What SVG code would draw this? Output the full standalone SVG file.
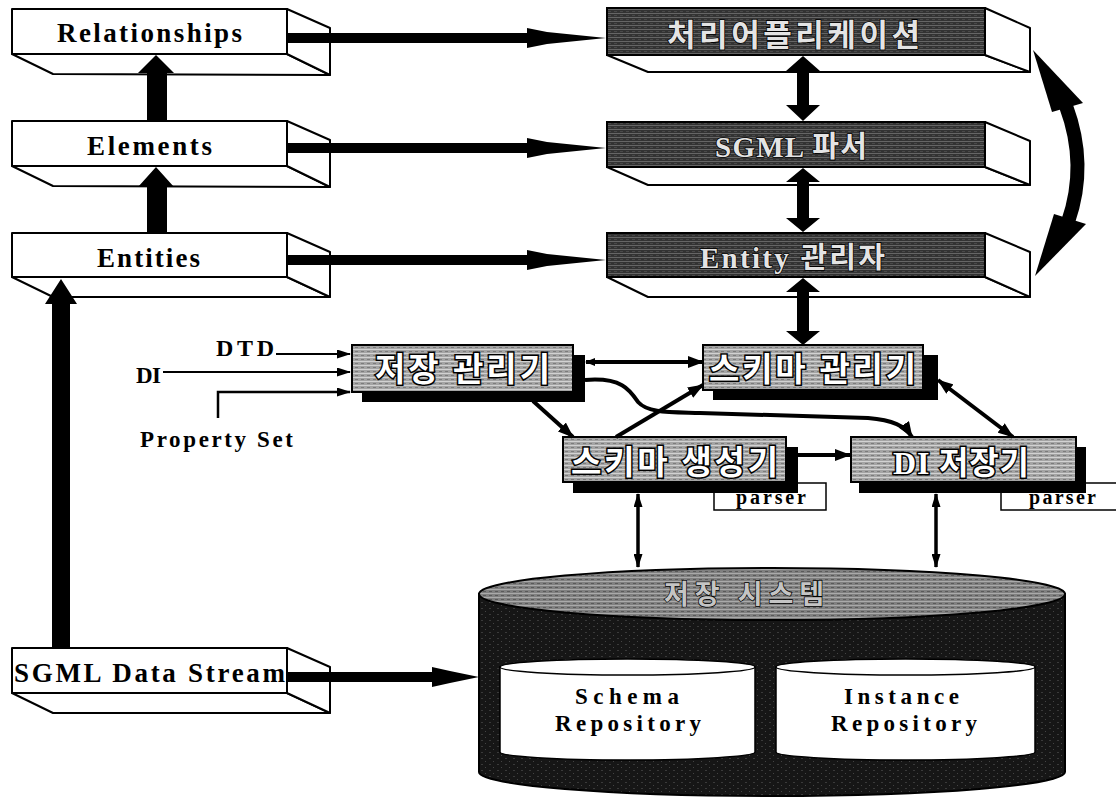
<svg xmlns="http://www.w3.org/2000/svg" width="1116" height="800" viewBox="0 0 1116 800">
<defs>
<pattern id="pDark" width="6" height="4" patternUnits="userSpaceOnUse">
<rect width="6" height="4" fill="#333"/><rect y="1" width="6" height="1" fill="#666"/><rect x="2" y="3" width="3" height="1" fill="#4a4a4a"/>
</pattern>
<pattern id="pMid" width="6" height="4" patternUnits="userSpaceOnUse">
<rect width="6" height="4" fill="#a4a4a4"/><rect y="1" width="6" height="1" fill="#d2d2d2"/><rect x="1" y="3" width="3" height="1" fill="#7c7c7c"/>
</pattern>
<pattern id="pCylTop" width="6" height="4" patternUnits="userSpaceOnUse">
<rect width="6" height="4" fill="#808080"/><rect y="1" width="6" height="1" fill="#aaaaaa"/><rect x="3" y="3" width="3" height="1" fill="#5a5a5a"/>
</pattern>
<pattern id="pCylBody" width="8" height="6" patternUnits="userSpaceOnUse">
<rect width="8" height="6" fill="#161616"/><rect x="1" y="2" width="2" height="1" fill="#3a3a3a"/><rect x="5" y="5" width="1" height="1" fill="#444"/>
</pattern>
<marker id="ah" markerWidth="16" markerHeight="12" refX="15" refY="6" orient="auto-start-reverse" markerUnits="userSpaceOnUse"><path d="M0,0 L16,6 L0,12 Z" fill="#000"/></marker>
<marker id="ahs" markerWidth="14" markerHeight="9" refX="13" refY="4.5" orient="auto-start-reverse" markerUnits="userSpaceOnUse"><path d="M0,0 L14,4.5 L0,9 Z" fill="#000"/></marker>
<marker id="ahm" markerWidth="10" markerHeight="10" refX="9" refY="5" orient="auto-start-reverse" markerUnits="userSpaceOnUse"><path d="M0,1 L10,5 L0,9 Z" fill="#000"/></marker>
<style>
.face{fill:#fff;stroke:#000;stroke-width:2;stroke-linejoin:round}
.ser{font-family:"Liberation Serif","Noto Sans CJK KR",serif;font-weight:bold;fill:#000}
.krd{font-family:"Liberation Serif","Noto Sans CJK KR",sans-serif;font-weight:bold;fill:#e4e4e4;stroke:#000;stroke-width:1.6;paint-order:stroke}
.krm{font-family:"Liberation Serif","Noto Sans CJK KR",sans-serif;font-weight:bold;fill:#fff;stroke:#000;stroke-width:3;paint-order:stroke}
.dark{fill:url(#pDark);stroke:#000;stroke-width:2}
.mid{fill:url(#pMid);stroke:#000;stroke-width:2}
.shadow{fill:#000}
.ln{fill:none;stroke:#000;stroke-linecap:butt}
</style>
</defs>
<rect width="1116" height="800" fill="#fff"/>

<!-- left 3D boxes -->
<g id="relationships">
<polygon class="face" points="12,54 53,74 330,75 287,54"/>
<polygon class="face" points="287,9 330,28 330,75 287,54"/>
<rect class="face" x="12" y="9" width="275" height="45"/>
<text class="ser" x="57" y="42" font-size="27" textLength="185" lengthAdjust="spacing">Relationships</text>
</g>
<g id="elements">
<polygon class="face" points="12,166 53,186 330,187 287,166"/>
<polygon class="face" points="287,121 330,140 330,187 287,166"/>
<rect class="face" x="12" y="121" width="275" height="45"/>
<text class="ser" x="87" y="155" font-size="27" textLength="125" lengthAdjust="spacing">Elements</text>
</g>
<g id="entities">
<polygon class="face" points="12,277 53,297 330,297 287,277"/>
<polygon class="face" points="287,233 330,252 330,297 287,277"/>
<rect class="face" x="12" y="233" width="275" height="44"/>
<text class="ser" x="97" y="267" font-size="27" textLength="103" lengthAdjust="spacing">Entities</text>
</g>
<g id="sgml-data-stream">
<polygon class="face" points="12,693 53,713 330,713 287,693"/>
<polygon class="face" points="287,648 330,667 330,713 287,693"/>
<rect class="face" x="12" y="648" width="275" height="45"/>
<text class="ser" x="14" y="682" font-size="27" textLength="271" lengthAdjust="spacing">SGML Data Stream</text>
</g>

<!-- right 3D boxes -->
<g id="app">
<polygon class="face" points="607,55 648,72 1030,72 985,55"/>
<polygon class="face" points="985,8 1030,28 1030,72 985,55"/>
<rect class="dark" x="607" y="8" width="378" height="47"/>
<text class="krd" x="667" y="46" font-size="31" textLength="253" lengthAdjust="spacing">처리어플리케이션</text>
</g>
<g id="sgml-parser">
<polygon class="face" points="607,167 648,185 1030,185 985,167"/>
<polygon class="face" points="985,122 1030,141 1030,185 985,167"/>
<rect class="dark" x="607" y="122" width="378" height="45"/>
<text class="krd" x="715" y="157" font-size="29" textLength="152" lengthAdjust="spacing">SGML 파서</text>
</g>
<g id="entity-manager">
<polygon class="face" points="607,277 648,297 1030,297 985,277"/>
<polygon class="face" points="985,233 1030,252 1030,297 985,277"/>
<rect class="dark" x="607" y="233" width="378" height="44"/>
<text class="krd" x="700" y="268" font-size="29" textLength="185" lengthAdjust="spacing">Entity 관리자</text>
</g>

<!-- middle boxes -->
<g id="storage-manager">
<rect class="shadow" x="362" y="355" width="223" height="47"/>
<rect class="mid" x="352" y="345" width="221" height="47"/>
<text class="krm" x="375" y="381" font-size="33" textLength="175" lengthAdjust="spacing">저장 관리기</text>
</g>
<g id="schema-manager">
<rect class="shadow" x="713" y="355" width="225" height="45"/>
<rect class="mid" x="703" y="345" width="220" height="45"/>
<text class="krm" x="709" y="381" font-size="33" textLength="207" lengthAdjust="spacing">스키마 관리기</text>
</g>
<g id="schema-generator">
<rect fill="#fff" stroke="#000" stroke-width="1.5" x="714" y="483" width="112" height="27"/>
<text class="ser" x="736" y="504" font-size="20" textLength="70" lengthAdjust="spacing">parser</text>
<rect class="shadow" x="573" y="447" width="225" height="46"/>
<rect class="mid" x="563" y="437" width="223" height="45"/>
<text class="krm" x="571" y="474" font-size="33" textLength="207" lengthAdjust="spacing">스키마 생성기</text>
</g>
<g id="di-storer">
<rect fill="#fff" stroke="#000" stroke-width="1.5" x="1001" y="483" width="120" height="27"/>
<text class="ser" x="1029" y="504" font-size="20" textLength="67" lengthAdjust="spacing">parser</text>
<rect class="shadow" x="859" y="447" width="227" height="46"/>
<rect class="mid" x="851" y="437" width="225" height="45"/>
<text class="krm" x="893" y="474" font-size="32" textLength="136" lengthAdjust="spacing">DI 저장기</text>
</g>

<!-- input labels -->
<g id="inputs">
<text class="ser" x="216" y="356" font-size="24" textLength="58" lengthAdjust="spacing">DTD</text>
<text class="ser" x="136" y="383" font-size="23" textLength="25" lengthAdjust="spacing">DI</text>
<text class="ser" x="140" y="447" font-size="23" textLength="153" lengthAdjust="spacing">Property Set</text>
</g>

<!-- storage system cylinder -->
<g id="storage-system">
<path d="M479,594 L479,772 A293,24 0 0 0 1065,772 L1065,594 Z" fill="url(#pCylBody)" stroke="#000" stroke-width="2"/>
<ellipse cx="772" cy="594" rx="293" ry="26" fill="url(#pCylTop)" stroke="#000" stroke-width="2"/>
<text class="krd" x="664" y="604" font-size="27" textLength="160" lengthAdjust="spacing" style="fill:#c4c4c4;stroke-width:1.4">저장 시스템</text>
<g id="schema-repository">
<path d="M500,667 L500,752 A127.5,8 0 0 0 755,752 L755,667 Z" fill="#fff" stroke="#000" stroke-width="1.5"/>
<ellipse cx="627.5" cy="667" rx="127.5" ry="8" fill="#fff" stroke="#000" stroke-width="1.5"/>
<text class="ser" x="575" y="704" font-size="23" textLength="104" lengthAdjust="spacing">Schema</text>
<text class="ser" x="555" y="731" font-size="23" textLength="146" lengthAdjust="spacing">Repository</text>
</g>
<g id="instance-repository">
<path d="M776,667 L776,752 A129.5,8 0 0 0 1035,752 L1035,667 Z" fill="#fff" stroke="#000" stroke-width="1.5"/>
<ellipse cx="905.5" cy="667" rx="129.5" ry="8" fill="#fff" stroke="#000" stroke-width="1.5"/>
<text class="ser" x="844" y="704" font-size="23" textLength="115" lengthAdjust="spacing">Instance</text>
<text class="ser" x="831" y="731" font-size="23" textLength="146" lengthAdjust="spacing">Repository</text>
</g>
</g>

<!-- connectors -->
<g id="connectors" fill="#000">
<polygon points="287,33 527,33 527,28 547,32 606,38 547,44 527,48 527,43 287,43"/>
<polygon points="287,143 527,143 527,138 547,142 606,148 547,154 527,158 527,153 287,153"/>
<polygon points="287,255 527,255 527,250 547,254 606,260 547,266 527,270 527,265 287,265"/>
<polygon points="287,672 432,672 432,667 450,671 479,677 450,683 432,687 432,682 287,682"/>
<polygon points="147,121 147,73 138,73 156,55 174,73 167,73 167,121"/>
<polygon points="147,233 147,187 138,187 156,167 174,187 167,187 167,233"/>
<polygon points="52,648 52,304 45,304 61,279 77,304 70,304 70,648"/>
<polygon points="803,56 820,71 809,71 809,105 820,105 803,121 786,105 797,105 797,71 786,71"/>
<polygon points="803,168 820,182 809,182 809,218 820,218 803,232 786,218 797,218 797,182 786,182"/>
<polygon points="803,278 820,292 809,292 809,331 820,331 803,345 786,331 797,331 797,292 786,292"/>
<path d="M1066,106 Q1088,165 1068,222" fill="none" stroke="#000" stroke-width="14"/>
<polygon points="1033,50 1052,112 1083,103"/>
<polygon points="1035,276 1054,214 1086,224"/>
<line class="ln" x1="276" y1="354" x2="350" y2="354" stroke-width="2" marker-end="url(#ahs)"/>
<line class="ln" x1="163" y1="372" x2="350" y2="372" stroke-width="2" marker-end="url(#ahs)"/>
<polyline class="ln" points="218,418 218,392 350,392" stroke-width="2.5" marker-end="url(#ahs)"/>
<line class="ln" x1="586" y1="362" x2="703" y2="362" stroke-width="4" marker-start="url(#ahm)" marker-end="url(#ah)"/>
<line class="ln" x1="533" y1="401" x2="573" y2="437" stroke-width="4" marker-end="url(#ah)"/>
<line class="ln" x1="616" y1="437" x2="703" y2="385" stroke-width="4" marker-end="url(#ah)"/>
<path class="ln" d="M585,380 C622,377 630,390 638,402 C648,413 668,412 700,413 L868,418 C893,420 905,426 912,437" stroke-width="4" marker-end="url(#ah)"/>
<line class="ln" x1="938" y1="380" x2="1013" y2="437" stroke-width="4" marker-start="url(#ah)" marker-end="url(#ah)"/>
<line class="ln" x1="798" y1="455" x2="850" y2="455" stroke-width="4" marker-end="url(#ah)"/>
<line class="ln" x1="638" y1="494" x2="638" y2="567" stroke-width="3.5" marker-start="url(#ahs)" marker-end="url(#ahs)"/>
<line class="ln" x1="936" y1="494" x2="936" y2="567" stroke-width="3.5" marker-start="url(#ahs)" marker-end="url(#ahs)"/>
</g>
</svg>
